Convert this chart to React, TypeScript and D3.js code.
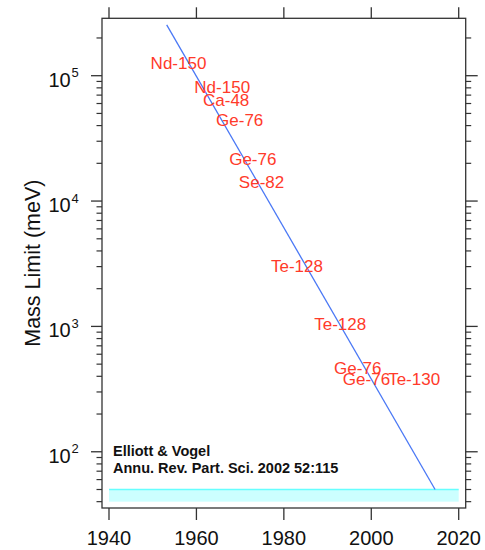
import React from "react";
import * as d3 from "d3";

// Double-beta-decay neutrino mass limits by year
const isotopes = ["Nd-150", "Nd-150", "Ca-48", "Ge-76", "Ge-76", "Se-82", "Te-128", "Te-128", "Ge-76", "Ge-76", "Te-130"];
const limitYears = [1955.9, 1965.9, 1966.8, 1969.9, 1972.9, 1974.9, 1983.0, 1992.9, 1996.9, 1998.9, 2009.8];
const limitMass = [126000, 80800, 63000, 43800, 21500, 14000, 3030, 1040, 459, 376, 380];

// Trend line endpoints
const trendYears = [1953.2, 2014.6];
const trendMass = [254000, 50];

// Target sensitivity band (meV)
const bandYears = [1940, 2020];
const bandMass = [40, 50];

const xTicks = [1940, 1960, 1980, 2000, 2020];
const yDecades = [2, 3, 4, 5];

const W = 485;
const H = 550;
const L = 102;
const R = 465.7;
const T = 18.3;
const B = 508;

const FONT = "'Liberation Sans', Arial, Helvetica, sans-serif";

export default function App() {
  const x = d3.scaleLinear().domain([1938.4, 2021.6]).range([L, R]);
  const y = d3.scaleLog().domain([35.6, 2.87e5]).range([B, T]);

  const [lo, hi] = y.domain();
  const minor: number[] = [];
  for (let d = 1; d <= 5; d++) {
    for (let k = 2; k <= 9; k++) {
      const v = k * Math.pow(10, d);
      if (v >= lo && v <= hi) minor.push(v);
    }
  }

  const line = d3
    .line<number>()
    .x((_, i) => x(trendYears[i]))
    .y((_, i) => y(trendMass[i]));

  const axisColor = "#333";

  return (
    <svg
      width={W}
      height={H}
      style={{ position: "absolute", left: 0, top: 0, background: "#fff" }}
      fontFamily={FONT}
    >
      <rect x={0} y={0} width={W} height={H} fill="#fff" />

      {/* sensitivity band */}
      <rect
        x={x(bandYears[0])}
        y={y(bandMass[1])}
        width={x(bandYears[1]) - x(bandYears[0])}
        height={y(bandMass[0]) - y(bandMass[1])}
        fill="#ccffff"
      />
      <line
        x1={x(bandYears[0])}
        x2={x(bandYears[1])}
        y1={y(bandMass[1])}
        y2={y(bandMass[1])}
        stroke="#66ffff"
        strokeWidth={1.5}
      />

      {/* trend */}
      <path d={line(trendYears) || ""} fill="none" stroke="#4a78f5" strokeWidth={1.3} />

      {/* isotope labels */}
      {isotopes.map((name, i) => (
        <text
          key={i}
          x={x(limitYears[i])}
          y={y(limitMass[i])}
          textAnchor="middle"
          dominantBaseline="central"
          fontSize={17}
          fill="#ff3a2a"
        >
          {name}
        </text>
      ))}

      {/* citation */}
      <text x={113} y={456} fontSize={14.5} fontWeight="bold" fill="#111">
        Elliott &amp; Vogel
      </text>
      <text x={113} y={472.7} fontSize={14.5} fontWeight="bold" fill="#111">
        Annu. Rev. Part. Sci. 2002 52:115
      </text>

      {/* frame */}
      <rect x={L} y={T} width={R - L} height={B - T} fill="none" stroke={axisColor} strokeWidth={1.3} />

      {/* x ticks, top and bottom */}
      {xTicks.map((t) => (
        <g key={t}>
          <line x1={x(t)} x2={x(t)} y1={B} y2={B + 12} stroke={axisColor} strokeWidth={1.3} />
          <line x1={x(t)} x2={x(t)} y1={T} y2={T - 11} stroke={axisColor} strokeWidth={1.3} />
          <text x={x(t)} y={545} textAnchor="middle" fontSize={20} fill="#111">
            {t}
          </text>
        </g>
      ))}

      {/* y major ticks */}
      {yDecades.map((d) => {
        const v = Math.pow(10, d);
        const yy = y(v);
        return (
          <g key={d}>
            <line x1={L} x2={L - 11} y1={yy} y2={yy} stroke={axisColor} strokeWidth={1.3} />
            <line x1={R} x2={R + 12} y1={yy} y2={yy} stroke={axisColor} strokeWidth={1.3} />
            <text x={70.7} y={yy + 11} textAnchor="end" fontSize={20} fill="#111">
              10
            </text>
            <text x={71.5} y={yy + 1.6} textAnchor="start" fontSize={13} fill="#111">
              {d}
            </text>
          </g>
        );
      })}

      {/* y minor ticks */}
      {minor.map((v) => (
        <g key={v}>
          <line x1={L} x2={L - 5.5} y1={y(v)} y2={y(v)} stroke={axisColor} strokeWidth={1.2} />
          <line x1={R} x2={R + 5.5} y1={y(v)} y2={y(v)} stroke={axisColor} strokeWidth={1.2} />
        </g>
      ))}

      {/* y title */}
      <text
        transform={`translate(40,${(T + B) / 2}) rotate(-90)`}
        textAnchor="middle"
        fontSize={21.5}
        fill="#111"
      >
        Mass Limit (meV)
      </text>
    </svg>
  );
}
